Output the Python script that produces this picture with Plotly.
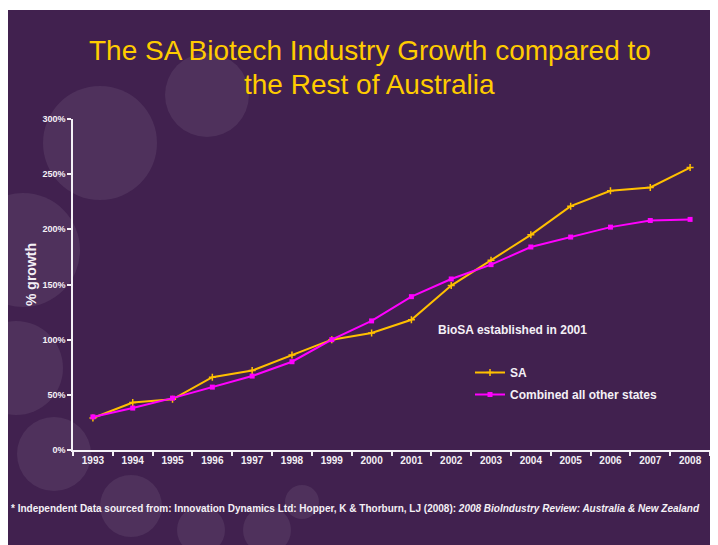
import plotly.graph_objects as go

years = ["1993", "1994", "1995", "1996", "1997", "1998", "1999", "2000",
         "2001", "2002", "2003", "2004", "2005", "2006", "2007", "2008"]
sa_growth = [29, 43, 46, 66, 72, 86, 100, 106, 118, 149, 172, 195, 221, 235, 238, 256]
other_growth = [30, 38, 47, 57, 67, 80, 100, 117, 139, 155, 168, 184, 193, 202, 208, 209]
y_ticks = [0, 50, 100, 150, 200, 250, 300]
y_tick_labels = ["0%", "50%", "100%", "150%", "200%", "250%", "300%"]
biosa_year = "2001"
dash_top = 236

W, H = 718, 545
OFF = 8  # page body margin offset
# target plot area in screenshot pixels: x 73..710, y 119..450
L, T = 73 - OFF, 119 - OFF
R = W - (710 - OFF)
B = H - (450 - OFF)
PW, PH = W - L - R, H - T - B


def px(x):
    """screenshot x pixel -> paper coordinate"""
    return (x - OFF - L) / PW


def py(y):
    """screenshot y pixel -> paper coordinate"""
    return (H - B - (y - OFF)) / PH


BG = "#41214F"
FONT = "Liberation Sans, Arial, sans-serif"
TXT = "#F4F0F6"

fig = go.Figure()
fig.add_trace(go.Scatter(
    x=years, y=sa_growth, name="SA", mode="lines+markers",
    line=dict(color="#FFC000", width=2),
    marker=dict(symbol="cross-thin", size=5, color="#FFC000",
                line=dict(color="#FFC000", width=1.5)),
    legendgroup="a"))
fig.add_trace(go.Scatter(
    x=years, y=other_growth, name="Combined all other states", mode="lines+markers",
    line=dict(color="#FF00FF", width=2),
    marker=dict(symbol="square", size=5, color="#FF00FF"),
    legendgroup="b"))

shapes = []
circles = [(100, 143, 57), (207, 95, 42), (23, 250, 57), (16, 368, 47), (54, 454, 37),
           (131, 506, 31), (201, 530, 24), (267, 530, 24), (302, 502, 17)]
for cx, cy, r in circles:
    shapes.append(dict(type="circle", xref="paper", yref="paper",
                       x0=px(cx - r), x1=px(cx + r), y0=py(cy + r), y1=py(cy - r),
                       fillcolor="rgba(255,255,255,0.075)", line=dict(width=0), layer="below"))
# thin white strip at the top
shapes.append(dict(type="rect", xref="paper", yref="paper", x0=px(0), x1=px(W + 20), y0=py(0), y1=py(10),
                   fillcolor="white", line=dict(width=0), layer="below"))
# BioSA dashed line
shapes.append(dict(type="line", xref="x", yref="y", x0=biosa_year, x1=biosa_year, y0=0, y1=dash_top,
                   line=dict(color="#E8E0F0", width=1.5, dash="dash")))

annotations = [
    dict(text="The SA Biotech Industry Growth compared to", x=px(369.5), y=py(51),
         xref="paper", yref="paper", showarrow=False, xanchor="center", yanchor="middle",
         font=dict(family=FONT, size=28, color="#FFCC00")),
    dict(text="the Rest of Australia", x=px(369.5), y=py(85),
         xref="paper", yref="paper", showarrow=False, xanchor="center", yanchor="middle",
         font=dict(family=FONT, size=28, color="#FFCC00")),
    dict(text="<b>% growth</b>", x=px(31), y=py(275), textangle=-90,
         xref="paper", yref="paper", showarrow=False, xanchor="center", yanchor="middle",
         font=dict(family=FONT, size=14, color=TXT)),
    dict(text="<b>BioSA established in 2001</b>", x=px(436), y=py(330),
         xref="paper", yref="paper", showarrow=False, xanchor="left", yanchor="middle",
         font=dict(family=FONT, size=12, color=TXT)),
    dict(text="<b>* Independent Data sourced from: Innovation Dynamics Ltd: Hopper, K &amp; Thorburn, LJ (2008): "
              "<i>2008 BioIndustry Review: Australia &amp; New Zealand</i></b>",
         x=px(9), y=py(508),
         xref="paper", yref="paper", showarrow=False, xanchor="left", yanchor="middle",
         font=dict(family=FONT, size=10, color=TXT)),
]

fig.update_layout(
    width=W, height=H,
    margin=dict(l=L, r=R, t=T, b=B, autoexpand=False),
    paper_bgcolor=BG, plot_bgcolor="rgba(0,0,0,0)",
    font=dict(family=FONT, color=TXT),
    shapes=shapes, annotations=annotations,
    showlegend=True,
    legend=dict(x=px(470), y=py(358), xanchor="left", yanchor="top",
                bgcolor="rgba(0,0,0,0)", tracegroupgap=3, itemwidth=30,
                font=dict(family=FONT, size=12, color=TXT, weight="bold")),
    xaxis=dict(type="category", showgrid=False, zeroline=False, showline=True,
               linecolor=TXT, linewidth=1.5, ticks="outside", ticklen=4,
               tickcolor=TXT, tickwidth=1.5, tickson="boundaries",
               tickfont=dict(family=FONT, size=10, color=TXT, weight="bold"),
               range=[-0.5, 15.5], fixedrange=True),
    yaxis=dict(range=[0, 300], tickvals=y_ticks, ticktext=y_tick_labels,
               showgrid=False, zeroline=False, showline=True,
               linecolor=TXT, linewidth=1.5, ticks="outside", ticklen=4,
               tickcolor=TXT, tickwidth=1.5,
               tickfont=dict(family=FONT, size=9, color=TXT, weight="bold")),
)

fig.write_html("out.html")
